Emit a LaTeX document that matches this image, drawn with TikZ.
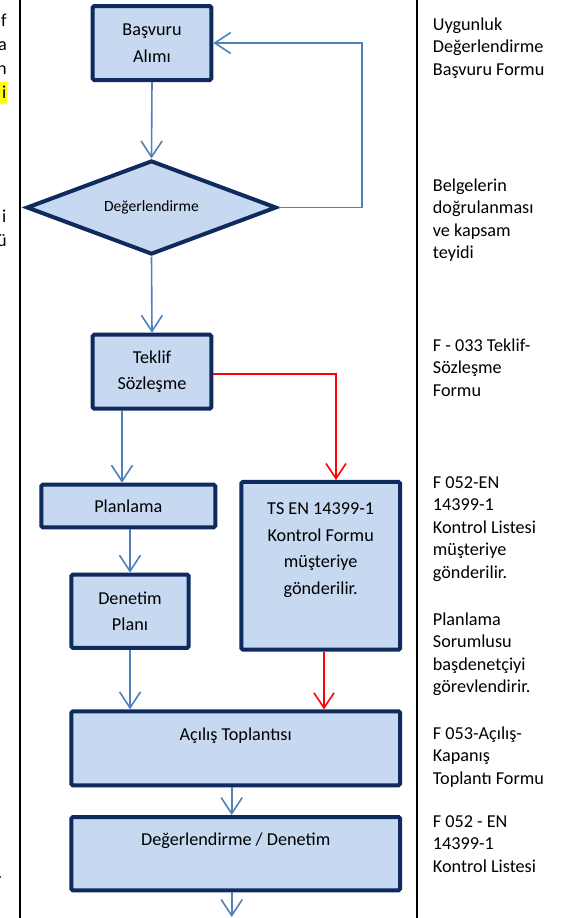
\documentclass[tikz,border=0pt]{standalone}
\usepackage{fontspec}
\setmainfont{Carlito}
\usetikzlibrary{arrows.meta,shapes.geometric}
\definecolor{navy}{HTML}{0E2A5E}
\definecolor{fillb}{HTML}{C6D9F1}
\definecolor{lineb}{HTML}{4F81BD}
\definecolor{hl}{HTML}{FFFF00}
\begin{document}
\begin{tikzpicture}[x=1pt,y=-1pt,
  box/.style={draw=navy, fill=fillb, line width=4pt, rounded corners=1.5pt, inner sep=0pt, align=center, font=\fontsize{18.2}{26.7}\selectfont},
  dia/.style={diamond, aspect=2.66, draw=navy, fill=fillb, line width=4pt, inner sep=0pt, font=\fontsize{15.6}{18}\selectfont},
  conn/.style={draw=lineb, line width=1.6pt, -{Straight Barb[length=16pt,width=21pt]}},
  rconn/.style={draw=red, line width=1.6pt, -{Straight Barb[length=15pt,width=20pt]}},
  note/.style={anchor=north west, inner sep=0pt, align=left, font=\fontsize{18.2}{22.5}\selectfont},
  frag/.style={anchor=base east, inner sep=0pt, font=\fontsize{18.2}{22.5}\selectfont}]
\useasboundingbox (0,0) rectangle (569,918);
\fill[white] (0,0) rectangle (569,918);

% clipped text fragments from the neighbouring column
\begin{scope}
\clip (0,0) rectangle (20,918);
\fill[hl] (0,82) rectangle (7,104);
\node[frag] (f1) at (7,27) {f};
\node[frag] (f2) at (7,50) {a};
\node[frag] (f3) at (7,74) {n};
\node[frag] (f4) at (6.5,98) {i};
\node[frag] (f5) at (6.5,222) {i};
\node[frag] (f6) at (7,246) {ü};
\node[frag] (f7) at (2.5,878) {.};
\end{scope}

% frame lines
\draw[line width=2pt] (20,0) -- (20,918);
\draw[line width=2pt] (416.5,0) -- (416.5,918);

% nodes
\node[box, minimum width=118.6pt, minimum height=74pt] (basvuru) at (152,43) {Başvuru\\Alımı};
\node[dia, minimum width=250pt, minimum height=94pt] (dia) at (151.5,207.5) {Değerlendirme};
\node[box, minimum width=118.6pt, minimum height=74pt] (teklif) at (152,371.7) {Teklif\\Sözleşme};
\node[box, minimum width=174pt, minimum height=42.6pt] (planlama) at (128.3,506) {Planlama};
\node[box, minimum width=117.4pt, minimum height=73.3pt] (denetim) at (130,611.3) {Denetim\\Planı};
\node[box, minimum width=158.7pt, minimum height=167.7pt] (ts) at (320.7,565.8) {TS EN 14399-1\\Kontrol Formu\\müşteriye\\gönderilir.\\\strut};
\node[box, minimum width=328.7pt, minimum height=74pt] (acilis) at (235.7,748.3) {\strut Açılış Toplantısı\\\strut};
\node[box, minimum width=328.7pt, minimum height=73.3pt] (degden) at (235.7,853.7) {\strut Değerlendirme / Denetim\\\strut};

% helper coordinates
\coordinate (loopx) at (362,0);
\coordinate (tkx) at (122,0);
\coordinate (rx) at (336,0);
\coordinate (rx2) at (324,0);
\coordinate (cx) at (231.7,0);
\coordinate (endc) at (231.7,917);

% connectors
\draw[conn] (basvuru.south) -- (dia.north);
\draw[conn] (dia.east) -- (dia.east -| loopx) |- (basvuru.east);
\draw[conn] (dia.south) -- (teklif.north);
\draw[conn] (teklif.south -| tkx) -- (planlama.north -| tkx);
\draw[conn] (planlama.south -| denetim.north) -- (denetim.north);
\draw[conn] (denetim.south) -- (denetim.south |- acilis.north);
\draw[rconn] ([yshift=-2pt]teklif.east) -| (ts.north -| rx);
\draw[rconn] (ts.south -| rx2) -- (acilis.north -| rx2);
\draw[conn] (acilis.south -| cx) -- (degden.north -| cx);
\draw[conn] (degden.south -| cx) -- (endc);

% right column notes
\node[note] (n1) at (432.7,14.25) {\strut Uygunluk\\Değerlendirme\\Başvuru Formu};
\node[note] (n2) at (432.7,175.25) {\strut Belgelerin\\doğrulanması\\ve kapsam\\teyidi};
\node[note] (n3) at (432.7,335.25) {\strut F - 033 Teklif-\\Sözleşme\\Formu};
\node[note] (n4) at (432.7,472.25) {\strut F 052-EN\\14399-1\\Kontrol Listesi\\müşteriye\\gönderilir.};
\node[note] (n5) at (432.7,609.25) {\strut Planlama\\Sorumlusu\\başdenetçiyi\\görevlendirir.};
\node[note] (n6) at (432.7,723.25) {\strut F 053-Açılış-\\Kapanış\\Toplantı Formu};
\node[note] (n7) at (432.7,811.25) {\strut F 052 - EN\\14399-1\\Kontrol Listesi};
\end{tikzpicture}
\end{document}
